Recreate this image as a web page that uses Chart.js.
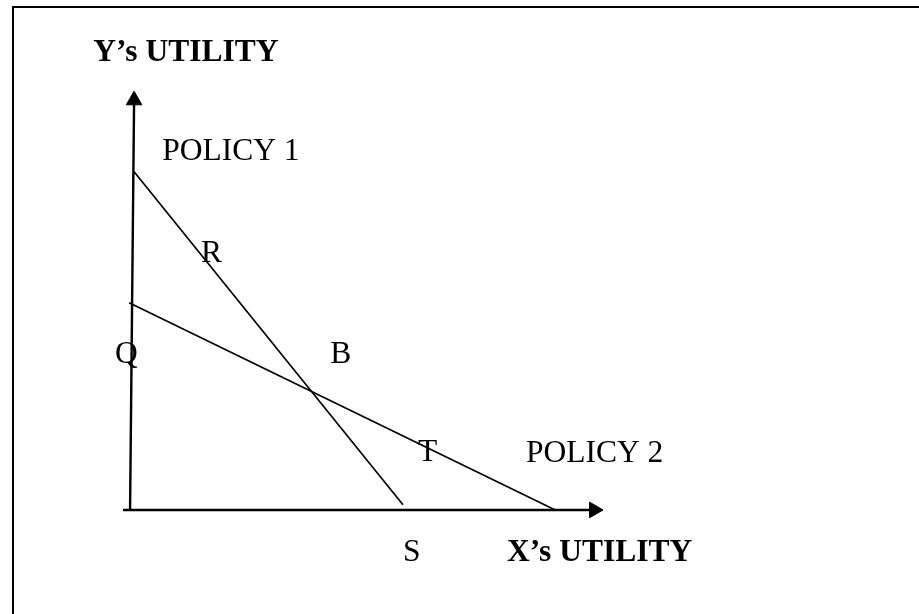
<!DOCTYPE html>
<html>
<head>
<meta charset="utf-8">
<title>Utility possibility lines</title>
<script src="https://cdn.jsdelivr.net/npm/chart.js@4/dist/chart.umd.min.js"></script>
<style>
    html, body { margin: 0; padding: 0; background: #fff; }
    #wrap { position: relative; width: 919px; height: 614px; }
    /* frame of the original figure: top and left edges only */
    #frame {
        position: absolute; left: 12px; top: 6px; right: -4px; bottom: -4px;
        border-top: 2px solid #000; border-left: 2px solid #000;
        pointer-events: none;
    }
</style>
</head>
<body>
<div id="wrap">
    <canvas id="chart" width="919" height="614"></canvas>
    <div id="frame"></div>
</div>
<script>
// Axes (X's utility, Y's utility) - last point carries the arrow head
const xAxisLine = [{ x: -1.5, y: 0 }, { x: 98.1, y: 0 }];
const yAxisLine = [{ x: 0, y: 0 }, { x: 0.85, y: 86.6 }];

// Policy frontiers
const policy1 = [{ x: 0.85, y: 71.5 }, { x: 57.7, y: 1.1 }];
const policy2 = [{ x: -0.2, y: 43.8 }, { x: 89.9, y: 0 }];

// Text labels and where they sit (in utility units)
const labelText = ["Y\u2019s UTILITY", "POLICY 1", "R", "Q", "B", "T", "POLICY 2", "S", "X\u2019s UTILITY"];
const labelX = [-7.8, 6.8, 15.0, -3.2, 42.3, 60.9, 83.7, 57.7, 79.7];
const labelY = [94.8, 74.0, 52.4, 31.1, 31.1, 10.4, 10.2, -10.8, -10.8];
const labelBold = [true, false, false, false, false, false, false, false, true];

// Draw labels on top of the lines
const labelPlugin = {
    id: 'labels',
    afterDatasetsDraw: (chart) => {
        const ctx = chart.ctx;
        const xs = chart.scales.x;
        const ys = chart.scales.y;
        ctx.save();
        ctx.fillStyle = '#000';
        ctx.textAlign = 'left';
        ctx.textBaseline = 'alphabetic';
        labelText.forEach((text, i) => {
            ctx.font = (labelBold[i] ? 'bold ' : '') + '31.5px "Liberation Serif", "Times New Roman", serif';
            ctx.fillText(text, xs.getPixelForValue(labelX[i]), ys.getPixelForValue(labelY[i]));
        });
        ctx.restore();
    }
};

const axisSet = (data, rotation) => ({
    data: data,
    showLine: true,
    borderColor: '#000',
    borderWidth: 2.4,
    pointRadius: [0, 9],
    pointStyle: 'triangle',
    rotation: rotation,
    pointBackgroundColor: '#000',
    pointBorderColor: '#000',
    pointBorderWidth: 1
});

const lineSet = (data) => ({
    data: data,
    showLine: true,
    borderColor: '#000',
    borderWidth: 1.7,
    pointRadius: 0
});

new Chart(document.getElementById('chart').getContext('2d'), {
    type: 'scatter',
    data: {
        datasets: [
            lineSet(policy1),
            lineSet(policy2),
            axisSet(xAxisLine, 90),
            axisSet(yAxisLine, 0)
        ]
    },
    options: {
        responsive: false,
        animation: false,
        layout: { padding: 0, autoPadding: false },
        scales: {
            x: { type: 'linear', min: -27.5, max: 166.8, display: false },
            y: { type: 'linear', min: -22, max: 107.8, display: false }
        },
        plugins: {
            legend: { display: false },
            tooltip: { enabled: false }
        }
    },
    plugins: [labelPlugin]
});
</script>
</body>
</html>
